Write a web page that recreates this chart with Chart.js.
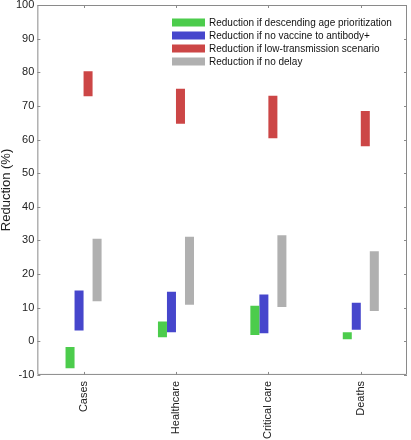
<!DOCTYPE html>
<html>
<head>
<meta charset="utf-8">
<script src="https://cdn.jsdelivr.net/npm/chart.js@4.4.0/dist/chart.umd.min.js"></script>
<style>
html,body{margin:0;padding:0;background:#fff;}
#wrap{width:411px;height:440px;position:relative;}
</style>
</head>
<body>
<div id="wrap"><canvas id="c" width="411" height="440"></canvas></div>
<script>
const categories = ["Cases", "Healthcare", "Critical care", "Deaths"];
const seriesNames = [
  "Reduction if descending age prioritization",
  "Reduction if no vaccine to antibody+",
  "Reduction if low-transmission scenario",
  "Reduction if no delay"
];
const ageLow = [-8.0, 1.2, 1.9, 0.6];
const ageHigh = [-1.7, 5.9, 10.6, 2.7];
const antibodyLow = [3.2, 2.7, 2.4, 3.4];
const antibodyHigh = [15.1, 14.7, 13.9, 11.5];
const lowTransLow = [72.9, 64.7, 60.4, 58.0];
const lowTransHigh = [80.3, 75.1, 73.0, 68.5];
const noDelayLow = [11.9, 10.9, 10.2, 9.0];
const noDelayHigh = [30.5, 31.1, 31.5, 26.8];
const yTicks = [-10, 0, 10, 20, 30, 40, 50, 60, 70, 80, 90, 100];
const yTitle = "Reduction (%)";

const colors = ["#4ccc4c", "#4646cc", "#cc4646", "#b0b0b0"];
const pairs = (lo, hi) => lo.map((v, i) => [v, hi[i]]);
const seriesData = [
  pairs(ageLow, ageHigh),
  pairs(antibodyLow, antibodyHigh),
  pairs(lowTransLow, lowTransHigh),
  pairs(noDelayLow, noDelayHigh)
];
const FONT = "'Liberation Sans', Arial, Helvetica, sans-serif";
const AXIS = "#8a8a8a";

const framePlugin = {
  id: "frame",
  afterDraw(chart) {
    const {ctx, chartArea: a, scales} = chart;
    ctx.save();
    ctx.strokeStyle = AXIS;
    ctx.lineWidth = 1;
    ctx.beginPath();
    ctx.moveTo(a.left + 0.5, a.top + 0.5);
    ctx.lineTo(a.right - 0.5, a.top + 0.5);
    ctx.lineTo(a.right - 0.5, a.bottom - 0.5);
    ctx.lineTo(a.left + 0.5, a.bottom - 0.5);
    ctx.closePath();
    ctx.stroke();
    const L = 3;
    ctx.beginPath();
    scales.y.ticks.forEach((t, i) => {
      const y = Math.round(scales.y.getPixelForTick(i)) + 0.5;
      ctx.moveTo(a.left, y); ctx.lineTo(a.left + L, y);
      ctx.moveTo(a.right, y); ctx.lineTo(a.right - L, y);
    });
    scales.x.ticks.forEach((t, i) => {
      const x = Math.round(scales.x.getPixelForTick(i)) + 0.5;
      ctx.moveTo(x, a.bottom); ctx.lineTo(x, a.bottom - L);
      ctx.moveTo(x, a.top); ctx.lineTo(x, a.top + L);
    });
    ctx.stroke();
    // legend
    ctx.font = "10px " + FONT;
    ctx.textBaseline = "middle";
    const lx = 172, sw = 33, sh = 8, y0 = 22.5, dy = 13;
    chart.data.datasets.forEach((ds, i) => {
      const y = y0 + i * dy;
      ctx.fillStyle = ds.backgroundColor;
      ctx.fillRect(lx, y - sh / 2, sw, sh);
      ctx.fillStyle = "#111";
      ctx.fillText(ds.label, lx + sw + 4, y + 0.5);
    });
    ctx.restore();
  }
};

new Chart(document.getElementById("c"), {
  type: "bar",
  data: {
    labels: categories,
    datasets: seriesNames.map((n, i) => ({
      label: n,
      data: seriesData[i],
      backgroundColor: colors[i],
      borderWidth: 0,
      borderSkipped: false,
      barPercentage: 1.0,
      categoryPercentage: 0.39
    }))
  },
  options: {
    responsive: false,
    animation: false,
    devicePixelRatio: 1,
    layout: {padding: {left: 0, right: 4, top: 5, bottom: -5}},
    plugins: {legend: {display: false}, tooltip: {enabled: false}},
    scales: {
      x: {
        offset: true,
        grid: {display: false, drawTicks: false},
        border: {display: false},
        ticks: {
          minRotation: 90, maxRotation: 90, padding: 6,
          color: "#222", font: {family: FONT, size: 11}
        }
      },
      y: {
        min: -10, max: 100,
        afterBuildTicks(scale) { scale.ticks = yTicks.map(v => ({value: v})); },
        afterFit(scale) { scale.paddingTop = 0; scale.paddingBottom = 0; },
        grid: {display: false, drawTicks: false},
        border: {display: false},
        title: {display: true, text: yTitle, color: "#222", font: {family: FONT, size: 13, lineHeight: 1.0}, padding: {top: 0, bottom: 0}},
        ticks: {padding: 3, color: "#222", font: {family: FONT, size: 11}}
      }
    }
  },
  plugins: [framePlugin]
});
</script>
</body>
</html>
